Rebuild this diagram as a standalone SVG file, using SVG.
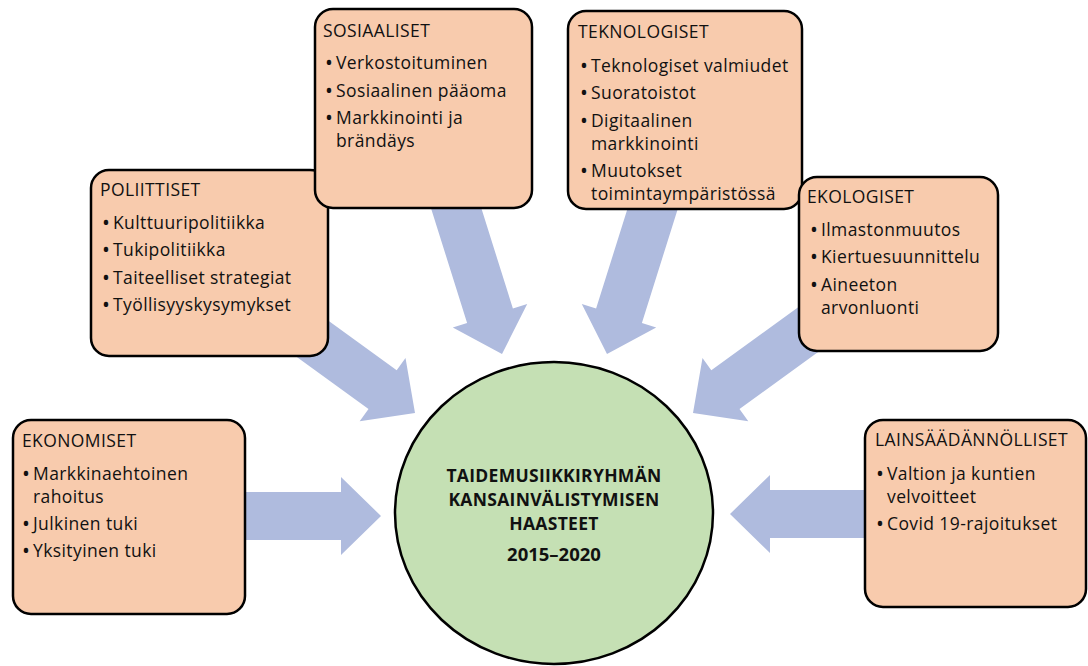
<svg xmlns="http://www.w3.org/2000/svg" width="1088" height="666" viewBox="0 0 1088 666">
<style>
.box{fill:#F8CBAD;stroke:#000;stroke-width:2.5}
.arr{fill:#AFBBDE;stroke:none}
.hub{fill:#C5E0B4;stroke:#000;stroke-width:2.5}
text{font-family:"Open Sans",Lato,"Liberation Sans",sans-serif;font-size:17.5px;fill:#111;letter-spacing:0.4px}
.b{font-size:21px;letter-spacing:0}
.c{font-weight:bold;text-anchor:middle;font-size:17.5px;letter-spacing:0.3px}
.y{font-weight:bold;text-anchor:middle;font-size:18.5px;letter-spacing:0}
</style>
<rect width="1088" height="666" fill="#fff"/>
<g id="connectors">
<polygon class="arr" points="430.7,207.2 467.1,323 452.8,327.5 502,354 527.2,304.1 512.9,308.6 476.5,192.8"/>
<polygon class="arr" points="632.5,192.8 596.1,308.6 581.8,304.1 607,354 656.2,327.5 641.9,323 678.3,207.2"/>
<polygon class="arr" points="271.3,338.6 368.5,409 359.7,421.2 415,413 405.5,358 396.7,370.2 299.5,299.8"/>
<polygon class="arr" points="808.5,299.8 711.3,370.2 702.5,358 693,413 748.3,421.2 739.5,409 836.7,338.6"/>
<polygon class="arr" points="240,492 341,492 341,477 381,516 341,555 341,540 240,540"/>
<polygon class="arr" points="870,490 770,490 770,475 730,514 770,553 770,538 870,538"/>
</g>
<g id="poliittiset">
<rect class="box" x="91" y="170" width="237" height="186" rx="18"/>
<text x="100" y="196">POLIITTISET</text>
<text class="b" x="102" y="230">•</text><text x="113" y="229">Kulttuuripolitiikka</text>
<text class="b" x="102" y="257">•</text><text x="113" y="256">Tukipolitiikka</text>
<text class="b" x="102" y="285">•</text><text x="113" y="284">Taiteelliset strategiat</text>
<text class="b" x="102" y="312">•</text><text x="113" y="311">Työllisyyskysymykset</text>
</g>
<g id="sosiaaliset">
<rect class="box" x="315" y="9" width="217" height="199" rx="18"/>
<text x="323" y="37">SOSIAALISET</text>
<text class="b" x="325" y="70">•</text><text x="336" y="69">Verkostoituminen</text>
<text class="b" x="325" y="98">•</text><text x="336" y="97">Sosiaalinen pääoma</text>
<text class="b" x="325" y="125">•</text><text x="336" y="124">Markkinointi ja</text>
<text x="336" y="147">brändäys</text>
</g>
<g id="teknologiset">
<rect class="box" x="568" y="11" width="234" height="198" rx="18"/>
<text x="578" y="38">TEKNOLOGISET</text>
<text class="b" x="580" y="73">•</text><text x="591" y="72">Teknologiset valmiudet</text>
<text class="b" x="580" y="100">•</text><text x="591" y="99">Suoratoistot</text>
<text class="b" x="580" y="128">•</text><text x="591" y="127">Digitaalinen</text>
<text x="591" y="150">markkinointi</text>
<text class="b" x="580" y="178">•</text><text x="591" y="177">Muutokset</text>
<text x="591" y="200">toimintaympäristössä</text>
</g>
<g id="ekologiset">
<rect class="box" x="799" y="177" width="199" height="174" rx="18"/>
<text x="807" y="203">EKOLOGISET</text>
<text class="b" x="810" y="237">•</text><text x="821" y="236">Ilmastonmuutos</text>
<text class="b" x="810" y="264">•</text><text x="821" y="263">Kiertuesuunnittelu</text>
<text class="b" x="810" y="292">•</text><text x="821" y="291">Aineeton</text>
<text x="821" y="314">arvonluonti</text>
</g>
<g id="ekonomiset">
<rect class="box" x="13" y="420" width="232" height="194" rx="18"/>
<text x="22" y="447">EKONOMISET</text>
<text class="b" x="22" y="481">•</text><text x="33" y="480">Markkinaehtoinen</text>
<text x="33" y="503">rahoitus</text>
<text class="b" x="22" y="531">•</text><text x="33" y="530">Julkinen tuki</text>
<text class="b" x="22" y="558">•</text><text x="33" y="557">Yksityinen tuki</text>
</g>
<g id="lainsaadannolliset">
<rect class="box" x="865" y="420" width="221" height="187" rx="18"/>
<text x="875" y="446">LAINSÄÄDÄNNÖLLISET</text>
<text class="b" x="876" y="481">•</text><text x="887" y="480">Valtion ja kuntien</text>
<text x="887" y="503">velvoitteet</text>
<text class="b" x="876" y="531">•</text><text x="887" y="530">Covid 19-rajoitukset</text>
</g>
<g id="hub">
<ellipse class="hub" cx="554" cy="513" rx="159" ry="151"/>
<text class="c" x="554" y="482">TAIDEMUSIIKKIRYHMÄN</text>
<text class="c" x="554" y="506">KANSAINVÄLISTYMISEN</text>
<text class="c" x="554" y="530">HAASTEET</text>
<text class="y" x="554" y="561">2015–2020</text>
</g>
</svg>
